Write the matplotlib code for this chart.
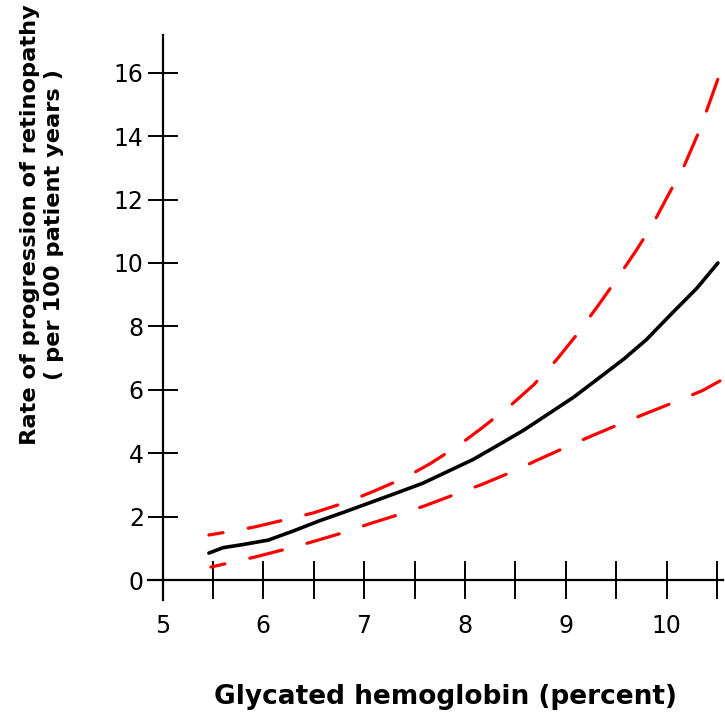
import matplotlib
matplotlib.use("Agg")
import matplotlib.pyplot as plt

# Data
x_mid = [5.46, 5.6, 5.8, 6.05, 6.3, 6.55, 6.8, 7.05, 7.3, 7.58, 7.8, 8.08, 8.3, 8.58, 8.8, 9.08, 9.3, 9.58, 9.8, 10.05, 10.3, 10.51]
y_mid = [0.85, 1.02, 1.12, 1.26, 1.55, 1.86, 2.14, 2.43, 2.72, 3.05, 3.38, 3.8, 4.2, 4.72, 5.18, 5.77, 6.3, 6.98, 7.58, 8.4, 9.2, 10.0]

x_up = [5.46, 5.63, 5.91, 6.24, 6.5, 6.83, 7.08, 7.40, 7.65, 7.94, 8.17, 8.45, 8.68, 8.91, 9.1, 9.32, 9.5, 9.7, 9.86, 10.01, 10.18, 10.33, 10.51]
y_up = [1.42, 1.51, 1.67, 1.92, 2.12, 2.46, 2.78, 3.22, 3.66, 4.25, 4.8, 5.5, 6.15, 6.95, 7.7, 8.65, 9.46, 10.4, 11.2, 12.1, 13.1, 14.2, 15.8]

x_lo = [5.48, 5.66, 5.91, 6.23, 6.48, 6.8, 7.05, 7.36, 7.61, 7.91, 8.18, 8.48, 8.73, 9.01, 9.26, 9.56, 9.81, 10.11, 10.36, 10.53]
y_lo = [0.41, 0.54, 0.72, 0.98, 1.2, 1.5, 1.77, 2.08, 2.35, 2.71, 3.03, 3.43, 3.8, 4.2, 4.55, 4.95, 5.27, 5.65, 5.98, 6.28]

x_ticks = [5, 5.5, 6, 6.5, 7, 7.5, 8, 8.5, 9, 9.5, 10, 10.5]
x_ticklabels = ["5", "", "6", "", "7", "", "8", "", "9", "", "10", ""]
y_ticks = [0, 2, 4, 6, 8, 10, 12, 14, 16]

W, H = 725, 719
fig = plt.figure(figsize=(W / 100, H / 100), dpi=100)
ax = fig.add_axes([148 / W, 1 - 600 / H, 5.704 * 100.8 / W, 565 / H])
ax.set_xlim(4.856, 10.56)
ax.set_ylim(-0.63, 17.19)

ax.plot(x_mid, y_mid, color="black", lw=2.6, solid_capstyle="round", solid_joinstyle="round")
ax.plot(x_up, y_up, color="#ff0000", lw=2.3, ls=(6, (10.5, 8)), dash_capstyle="round")
ax.plot(x_lo, y_lo, color="#ff0000", lw=2.3, ls=(6, (10.5, 8)), dash_capstyle="round")

for s in ["top", "right"]:
    ax.spines[s].set_visible(False)
ax.spines["left"].set_position(("data", 5))
ax.spines["bottom"].set_position(("data", 0))
for s in ["left", "bottom"]:
    ax.spines[s].set_linewidth(1.6)

ax.set_xticks(x_ticks)
ax.set_xticklabels(x_ticklabels)
ax.set_yticks(y_ticks)
ax.tick_params(axis="x", direction="inout", length=27, width=1.4, labelsize=17, pad=11)
ax.tick_params(axis="y", direction="inout", length=21, width=1.4, labelsize=17, pad=3)

fig.text(42 / W, 1 - 225 / H, "Rate of progression of retinopathy\n( per 100 patient years )",
         rotation=90, ha="center", va="center", fontsize=16.2, fontweight="bold", linespacing=1.3)
fig.text(445 / W, 1 - 697 / H, "Glycated hemoglobin (percent)", ha="center", va="center",
         fontsize=19, fontweight="bold")

fig.savefig("out.png", dpi=100)
